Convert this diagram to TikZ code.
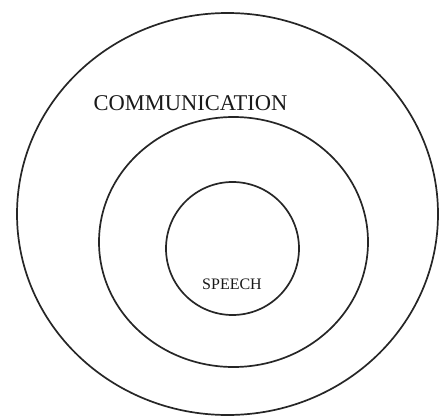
\documentclass[tikz,border=0pt]{standalone}
\usepackage{fontspec}
\setmainfont{Liberation Serif}
\begin{document}
\begin{tikzpicture}[x=1pt,y=-1pt,
  ring/.style={draw=black!85,line width=1.7pt},
  lbl/.style={inner sep=0pt,text=black!90}]
\useasboundingbox (0,0) rectangle (441,417);
\draw[ring] (227.5,214) ellipse [x radius=210.5, y radius=201];
\draw[ring] (233.5,242) ellipse [x radius=134.5, y radius=125];
\draw[ring] (232.5,248.5) ellipse [x radius=66.5, y radius=66.5];
\node[lbl,font=\fontsize{22.5}{25}\selectfont] (comm) at (190.5,103) {COMMUNICATION};
\node[lbl,font=\fontsize{16}{18}\selectfont] (speech) at (232,284) {SPEECH};
\end{tikzpicture}
\end{document}
